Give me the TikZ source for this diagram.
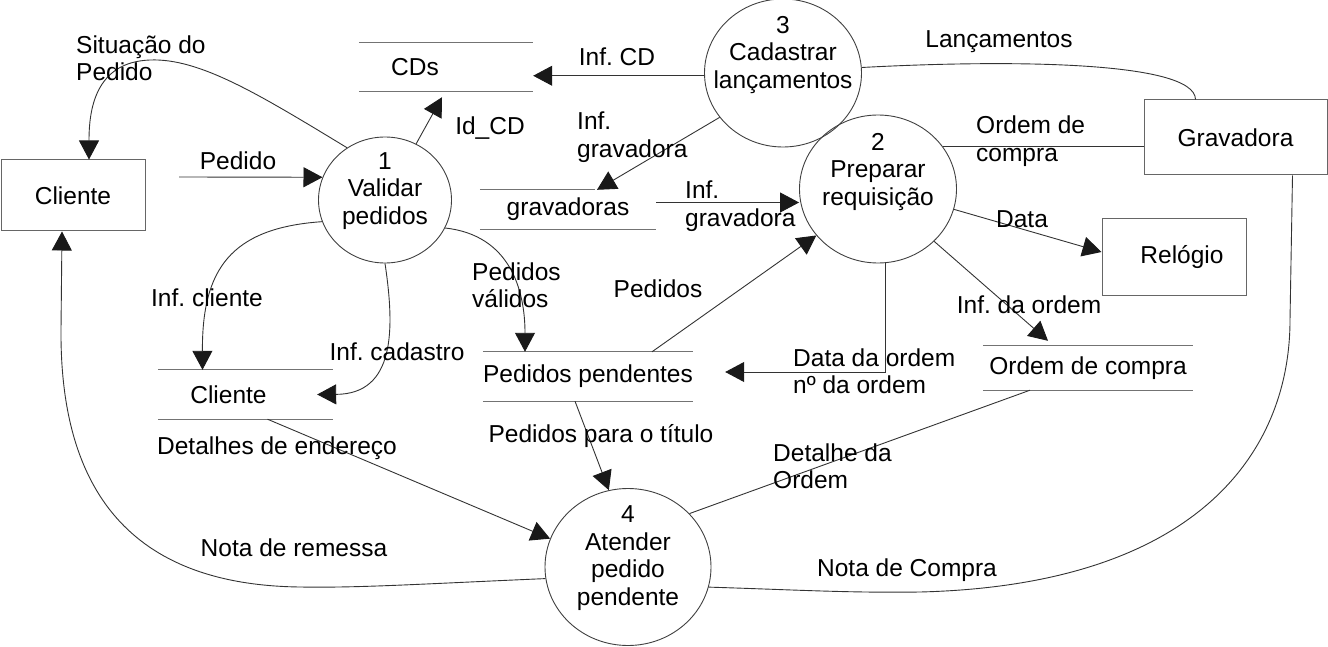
\documentclass[tikz,border=0pt]{standalone}
\usepackage{fontspec}
\setmainfont{Liberation Sans}
\usetikzlibrary{arrows.meta,shapes.geometric}
\frenchspacing

\begin{document}
\begin{tikzpicture}[x=1pt,y=-1pt,font=\fontsize{24.5}{27.5}\selectfont]
\tikzset{
  procnode/.style={ellipse,draw=black!75,line width=0.9pt,inner sep=0pt},
  extnode/.style={rectangle,draw=black!60,line width=1pt,inner sep=0pt},
  storenode/.style={rectangle,inner sep=0pt},
  storeline/.style={draw=black!55,line width=1pt},
  flow/.style={draw=black!80,line width=0.9pt},
  directed/.style={flow,-{Triangle[length=19pt,width=20pt,color=black!90]}},
  flowlabel/.style={inner sep=0pt,align=left}
}
\useasboundingbox (0,0) rectangle (1328,647);
% processes
\node[procnode,minimum width=133pt,minimum height=126pt,
  label={[yshift=9pt,align=center]center:{1\\Validar\\pedidos}}] (n_p1) at (385,200) {};
\node[procnode,minimum width=157pt,minimum height=148pt,
  label={[yshift=17pt,align=center]center:{2\\Preparar\\requisição}}] (n_p2) at (878,189) {};
\node[procnode,minimum width=157pt,minimum height=148pt,
  label={[yshift=18pt,align=center]center:{3\\Cadastrar\\lançamentos}}] (n_p3) at (783,73) {};
\node[procnode,minimum width=166pt,minimum height=157pt,
  label={[yshift=9pt,align=center]center:{4\\Atender\\pedido\\pendente}}] (n_p4) at (628,567) {};
% external entities
\node[extnode,minimum width=144pt,minimum height=71pt] (n_cli) at (73,195.5) {Cliente};
\node[extnode,minimum width=183pt,minimum height=75pt] (n_grav) at (1235.5,137.5) {Gravadora};
\node[extnode,minimum width=144pt,minimum height=76pt,
  label={[xshift=8pt]center:Relógio}] (n_rel) at (1174,257) {};
% data stores
\node[storenode,minimum width=174pt,minimum height=48pt,
  label={[xshift=-31pt]center:CDs}] (n_cds) at (446,67) {};
\node[storenode,minimum width=176pt,minimum height=39pt] (n_gravs) at (568,209.5) {gravadoras};
\node[storenode,minimum width=175pt,minimum height=49pt,
  label={[xshift=-17pt]center:Cliente}] (n_clis) at (245.5,394.5) {};
\node[storenode,minimum width=210pt,minimum height=49pt] (n_ped) at (588,376.5) {Pedidos pendentes};
\node[storenode,minimum width=210pt,minimum height=44pt] (n_ord) at (1088,368) {Ordem de compra};
\draw[storeline] (n_cds.north west) -- (n_cds.north east) (n_cds.south west) -- (n_cds.south east);
\draw[storeline] (n_gravs.north west) -- ([xshift=-61pt]n_gravs.north east) (n_gravs.south west) -- (n_gravs.south east);
\draw[storeline] (n_clis.north west) -- (n_clis.north east) (n_clis.south west) -- (n_clis.south east);
\draw[storeline] (n_ped.north west) -- (n_ped.north east) (n_ped.south west) -- (n_ped.south east);
\draw[storeline] (n_ord.north west) -- (n_ord.north east) (n_ord.south west) -- (n_ord.south east);
% flows
\coordinate (c_ped) at (179,177);
\coordinate (c_gv) at ([yshift=7pt]n_gravs.east);
\draw[directed] (c_ped) -- (n_p1.160);
\draw[directed] (n_p1.126) .. controls (260,95) and (200,58) .. (150,60) .. controls (95,62) and (89,110) .. ([xshift=16pt]n_cli.north);
\draw[directed] (n_p1.61) -- ([xshift=-4pt,yshift=-6pt]n_cds.south);
\draw[directed] (n_p3.182) -- (n_p3.182 -| n_cds.east);
\draw[directed] (n_p3.215) -- ([xshift=29pt]n_gravs.north);
\draw[directed] (c_gv) -- (c_gv -| n_p2.west);
\draw[directed] ([xshift=64pt]n_ped.north) -- (n_p2.217);
\draw[directed] (n_p1.-25) .. controls (510,235) and (525,290) .. ([xshift=-63pt]n_ped.north);
\draw[directed] (n_p1.199) .. controls (230,228) and (202,270) .. ([xshift=-43pt]n_clis.north);
\draw[directed] (n_p1.south) .. controls (395,330) and (395,394) .. ([xshift=-16pt]n_clis.east);
\draw[directed] ([xshift=22pt]n_clis.south) -- (n_p4.160);
\draw[directed] (n_p4.188) .. controls (420,584) and (360,588) .. (300,587) .. controls (130,585) and (60,490) .. (61,330) -- ([xshift=-11pt]n_cli.south);
\draw[flow] (n_p4.-14) .. controls (800,590) and (850,593) .. (920,592) .. controls (1200,585) and (1290,450) .. (1290,320) -- ([xshift=57pt]n_grav.south);
\draw[flow] (n_p3.4) .. controls (1000,60) and (1195,60) .. ([xshift=-40pt]n_grav.north);
\draw[flow] (n_p2.33) -- (n_p2.33 -| n_grav.west);
\draw[directed] (n_p2.-15) -- ([yshift=5pt]n_rel.west);
\draw[directed] (n_p2.-43) -- ([xshift=-40pt,yshift=5pt]n_ord.north);
\draw[directed] ([xshift=7pt]n_p2.south) |- ([xshift=32pt,yshift=4.5pt]n_ped.east);
\draw[directed] ([xshift=-13pt]n_ped.south) -- (n_p4.104);
\draw[flow] (n_p4.41) -- ([xshift=-58pt]n_ord.south);
% labels
\node[flowlabel] (t_ped) at (238,161) {Pedido};
\node[flowlabel,anchor=west] (t_sit) at (76,58) {Situação do\\Pedido};
\node[flowlabel] (t_idcd) at (490,128) {Id\_CD};
\node[flowlabel] (t_infcd) at (617,57) {Inf. CD};
\node[flowlabel,anchor=west] (t_infg1) at (577,137) {Inf.\\gravadora};
\node[flowlabel,anchor=west] (t_infg2) at (685,206) {Inf.\\gravadora};
\node[flowlabel] (t_peds) at (658,289) {Pedidos};
\node[flowlabel,anchor=west] (t_pedv) at (472,285) {Pedidos\\válidos};
\node[flowlabel] (t_infcli) at (207,298) {Inf. cliente};
\node[flowlabel] (t_infcad) at (397,352) {Inf. cadastro};
\node[flowlabel] (t_det) at (277,448) {Detalhes de endereço};
\node[flowlabel] (t_rem) at (294,548) {Nota de remessa};
\node[flowlabel] (t_comp) at (907,570) {Nota de Compra};
\node[flowlabel] (t_lanc) at (999,42) {Lançamentos};
\node[flowlabel,anchor=west] (t_oc) at (976,141) {Ordem de\\compra};
\node[flowlabel] (t_data) at (1022,219) {Data};
\node[flowlabel] (t_infod) at (1029,305) {Inf. da ordem};
\node[flowlabel,anchor=west] (t_dto) at (793,371) {Data da ordem\\nº da ordem};
\node[flowlabel] (t_ptit) at (601,436) {Pedidos para o título};
\node[flowlabel,anchor=west] (t_dord) at (773,466) {Detalhe da\\Ordem};
\end{tikzpicture}
\end{document}
